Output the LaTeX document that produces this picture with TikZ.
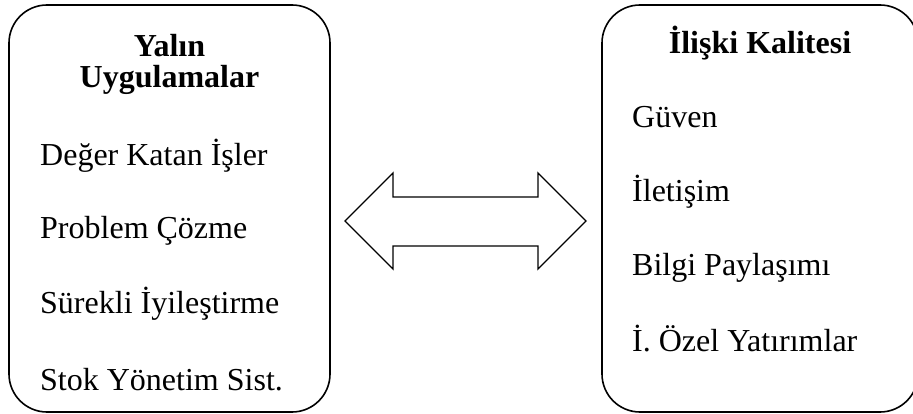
\documentclass[tikz,border=0pt]{standalone}
\usepackage{fontspec}
\setmainfont{Liberation Serif}
\begin{document}
\begin{tikzpicture}[x=1pt,y=-1pt,
  box/.style={draw=black, line width=1.6pt, rounded corners=38pt, inner sep=0pt},
  item/.style={anchor=base west, inner sep=0pt, font=\fontsize{32}{38}\selectfont},
  title/.style={anchor=base, inner sep=0pt, font=\fontsize{32}{38}\selectfont\bfseries},
  blockarrow/.style={draw=black, line width=1.4pt, fill=white, line join=miter}]
\useasboundingbox (0,0) rectangle (913,414);
\node[box, minimum width=321pt, minimum height=407pt] (L) at (169.5,208.5) {};
\node[box, minimum width=316pt, minimum height=407pt] (R) at (760,208.5) {};
% left box texts
\node[title] (lt1) at (169.5,57) {Yalın};
\node[title] (lt2) at (169.5,88) {Uygulamalar};
\node[item] (l1) at (40,166) {Değer Katan İşler};
\node[item] (l2) at (40,239) {Problem Çözme};
\node[item] (l3) at (40,313) {Sürekli İyileştirme};
\node[item] (l4) at (40,390) {Stok Yönetim Sist.};
% right box texts
\node[title] (rt) at (760,54) {İlişki Kalitesi};
\node[item] (r1) at (632,128) {Güven};
\node[item] (r2) at (632,202) {İletişim};
\node[item] (r3) at (632,276) {Bilgi Paylaşımı};
\node[item] (r4) at (632,351) {İ. Özel Yatırımlar};
% double block arrow
\draw[blockarrow] (345,221) -- (393,173) -- (393,197) -- (538,197) -- (538,173)
  -- (586,221) -- (538,269) -- (538,246) -- (393,246) -- (393,269) -- cycle;
\end{tikzpicture}
\end{document}
